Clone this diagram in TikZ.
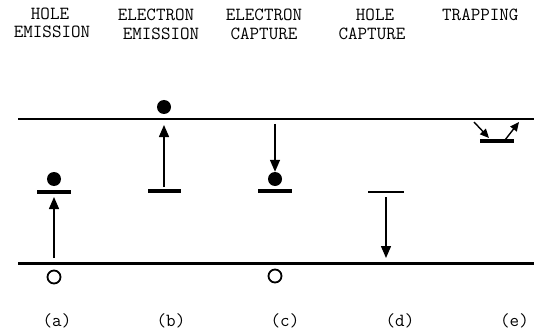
\documentclass[tikz,border=0pt]{standalone}
\usepackage{fontspec}
\usetikzlibrary{arrows.meta}
\tikzset{
  lbl/.style={font=\ttfamily\fontsize{18.5}{20}\selectfont, inner sep=0pt, anchor=center, text=black},
  electron/.style={circle, fill=black, minimum size=14pt, inner sep=0pt},
  hole/.style={circle, draw=black, line width=1.8pt, minimum size=13pt, inner sep=0pt},
  level/.style={line width=3.2pt},
  trans/.style={line width=1.4pt, -{Triangle[length=12pt,width=10pt]}},
  transsm/.style={line width=1.4pt, -{Triangle[length=9pt,width=8pt]}},
}
\begin{document}
\begin{tikzpicture}[x=1pt,y=-1pt]
\useasboundingbox (0,0) rectangle (534,331);
% bands
\coordinate (cbL) at (18,119); \coordinate (cbR) at (540,119);
\coordinate (vbL) at (18,263); \coordinate (vbR) at (540,263);
\draw[line width=1.3pt] (cbL) -- (cbR);
\draw[line width=3pt] (vbL) -- (vbR);
% headings
\node[lbl] (ha1) at (50,14) {HOLE};
\node[lbl] (ha2) at (52,32) {EMISSION};
\node[lbl] (hb1) at (156,15) {ELECTRON};
\node[lbl] (hb2) at (161,34) {EMISSION};
\node[lbl] (hc1) at (264,15) {ELECTRON};
\node[lbl] (hc2) at (264,34) {CAPTURE};
\node[lbl] (hd1) at (375,15) {HOLE};
\node[lbl] (hd2) at (372,34) {CAPTURE};
\node[lbl,anchor=west] (he1) at (442,15) {TRAPPING};
% bottom labels
\node[lbl] (la) at (57,321) {(a)};
\node[lbl] (lb) at (171,321) {(b)};
\node[lbl] (lc) at (285,321) {(c)};
\node[lbl] (ld) at (400,321) {(d)};
\node[lbl,anchor=west] (le) at (500,321) {(e)};
% (a)
\coordinate (aL) at (37,192); \coordinate (aR) at (71,192);
\draw[level] (aL) -- (aR);
\node[electron] (ea) at (54,179) {};
\node[hole] (ha) at (54,277) {};
\coordinate (a0) at (54,258); \coordinate (a1) at (54,197);
\draw[trans] (a0) -- (a1);
% (b)
\coordinate (bL) at (148,191); \coordinate (bR) at (181,191);
\draw[level] (bL) -- (bR);
\node[electron] (eb) at (164,107) {};
\coordinate (b0) at (164,187); \coordinate (b1) at (164,125);
\draw[trans] (b0) -- (b1);
% (c)
\coordinate (cL) at (258,191); \coordinate (cR) at (292,191);
\draw[level] (cL) -- (cR);
\node[electron] (ec) at (275,179) {};
\node[hole] (hc) at (275,276) {};
\coordinate (c0) at (275,124);
\draw[trans] (c0) -- (ec.north);
% (d)
\coordinate (dL) at (368,192); \coordinate (dR) at (404,192);
\draw[level, line width=2.5pt] (dL) -- (dR);
\coordinate (d0) at (386,197); \coordinate (d1) at (386,258);
\draw[trans] (d0) -- (d1);
% (e)
\coordinate (eL) at (480,141); \coordinate (eR) at (514,141);
\draw[level] (eL) -- (eR);
\coordinate (e0) at (474,122); \coordinate (e1) at (489,138);
\coordinate (e2) at (505,140); \coordinate (e3) at (519,122);
\draw[transsm] (e0) -- (e1);
\draw[transsm] (e2) -- (e3);
\end{tikzpicture}
\end{document}
